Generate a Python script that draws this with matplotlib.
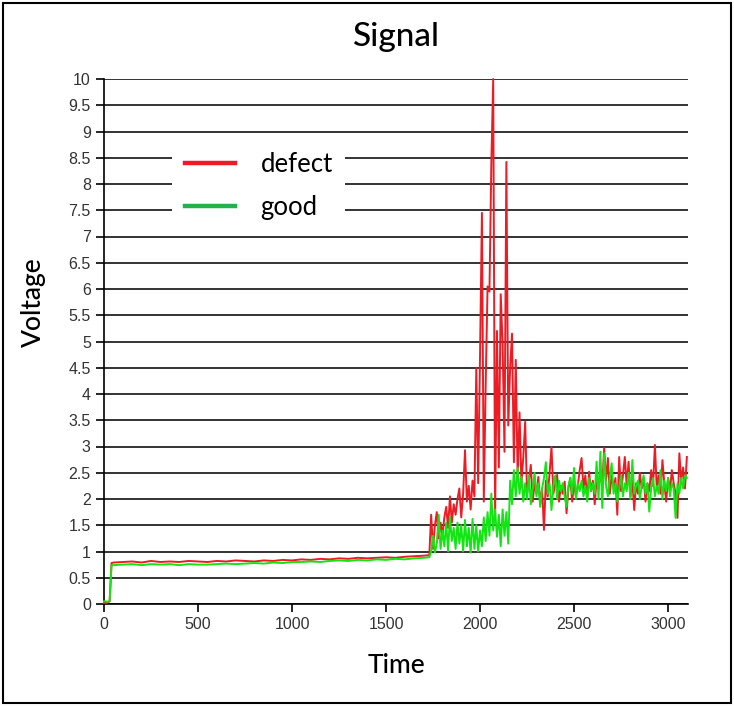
import numpy as np
import matplotlib
matplotlib.use('Agg')
import matplotlib.pyplot as plt
from matplotlib.lines import Line2D
from matplotlib.patches import Rectangle

# time grid: coarse on the flat start, every 10 on the noisy part
t_flat = [0, 10, 20, 30, 40] + list(range(50, 1701, 50)) + [1730]
t_noisy = list(range(1740, 3101, 10))

defect_flat = [0.02, 0.02, 0.03, 0.05, 0.78,
               0.79, 0.80, 0.81, 0.79, 0.82, 0.80, 0.81, 0.80, 0.82, 0.81,
               0.80, 0.82, 0.81, 0.83, 0.82, 0.81, 0.83, 0.82, 0.84, 0.83,
               0.85, 0.84, 0.86, 0.85, 0.87, 0.86, 0.88, 0.87, 0.88, 0.89,
               0.88, 0.90, 0.91, 0.92, 0.93]
good_flat = [0.05, 0.05, 0.04, 0.06, 0.74,
             0.74, 0.75, 0.76, 0.74, 0.76, 0.75, 0.76, 0.74, 0.76, 0.75,
             0.75, 0.76, 0.77, 0.76, 0.77, 0.78, 0.77, 0.79, 0.78, 0.80,
             0.80, 0.81, 0.80, 0.82, 0.83, 0.82, 0.84, 0.83, 0.85, 0.84,
             0.86, 0.85, 0.87, 0.88, 0.89]

defect_noisy = [
    1.70, 1.05, 1.50, 1.75, 1.25, 1.55, 1.30, 1.65, 1.85, 1.45,
    2.05, 1.55, 1.90, 1.70, 2.00, 2.20, 1.65, 2.10, 2.93, 1.95,
    2.25, 1.80, 2.35, 2.05, 4.50, 2.30, 4.75, 7.45, 1.95, 4.20,
    6.05, 5.95, 8.40, 10.0, 1.60, 5.20, 2.60, 5.90, 4.95, 2.90,
    8.42, 3.40, 4.50, 5.15, 2.70, 4.65, 2.40, 3.65, 2.30, 2.80,
    3.47, 2.10, 2.35, 2.65, 1.95, 2.30, 2.10, 2.42, 1.90, 2.20,
    1.41, 2.35, 2.05, 2.50, 2.99, 2.10, 2.30, 2.46, 1.95, 2.25,
    2.10, 2.33, 1.73, 2.20, 2.40, 1.95, 2.30, 2.05, 2.25, 2.55,
    2.78, 2.20, 2.45, 2.00, 2.52, 2.15, 2.35, 1.90, 2.40, 2.20,
    2.50, 2.25, 2.97, 2.35, 2.78, 2.10, 2.45, 2.20, 2.40, 1.70,
    2.80, 2.15, 2.45, 2.80, 2.25, 2.71, 2.05, 2.35, 1.79, 2.30,
    2.10, 2.50, 2.20, 2.40, 1.95, 2.30, 2.15, 2.55, 2.25, 3.03,
    2.20, 2.45, 2.10, 2.74, 2.30, 1.95, 2.40, 2.15, 2.55, 2.30,
    2.10, 1.64, 2.87, 2.35, 2.60, 2.20, 2.80]
good_noisy = [
    1.00, 1.30, 0.98, 1.15, 1.70, 1.05, 1.40, 1.10, 1.55, 1.00,
    1.66, 1.20, 1.45, 1.05, 1.55, 1.15, 1.50, 1.00, 1.60, 1.10,
    1.45, 0.98, 1.62, 1.05, 1.50, 1.00, 1.40, 1.10, 1.65, 1.20,
    1.75, 1.30, 2.10, 1.40, 1.80, 1.28, 1.70, 1.10, 1.80, 1.30,
    1.75, 1.15, 2.35, 1.90, 2.55, 2.05, 2.60, 2.10, 2.42, 1.95,
    2.30, 2.00, 2.45, 1.90, 2.20, 2.50, 2.05, 2.30, 1.85, 2.20,
    2.40, 2.70, 2.10, 2.30, 1.79, 2.25, 2.45, 2.00, 2.35, 2.15,
    2.30, 2.05, 1.85, 2.25, 2.40, 2.10, 2.59, 2.00, 2.30, 2.15,
    2.35, 2.05, 2.25, 1.95, 2.40, 2.15, 2.30, 2.10, 2.71, 2.00,
    2.90, 1.83, 2.87, 2.25, 2.05, 2.40, 2.68, 2.10, 2.30, 1.95,
    2.20, 2.45, 2.05, 2.30, 2.15, 2.50, 2.00, 2.74, 2.10, 2.25,
    2.35, 2.00, 2.25, 2.45, 2.10, 2.30, 1.76, 2.20, 2.40, 2.05,
    2.25, 2.10, 2.55, 2.00, 2.35, 2.15, 2.40, 2.05, 2.30, 2.20,
    1.64, 2.30, 2.10, 2.40, 2.20, 2.45, 2.40]

time = t_flat + t_noisy
defect = defect_flat + defect_noisy
good = good_flat + good_noisy

yticks = np.arange(0, 10.01, 0.5)
xticks = [0, 500, 1000, 1500, 2000, 2500, 3000]

fig = plt.figure(figsize=(7.34, 7.06), dpi=100)
ax = fig.add_axes([104/734, 102/706, 584/734, 525/706])

ax.plot(time, defect, color='#ed1c24', lw=1.4, clip_on=False, zorder=3)
ax.plot(time, good, color='#12e612', lw=1.4, clip_on=False, zorder=4)

ax.set_xlim(0, 3106)
ax.set_ylim(0, 10)
ax.set_yticks(yticks)
ax.set_yticklabels(['{:g}'.format(v) for v in yticks])
ax.set_xticks(xticks)
ax.grid(axis='y', color='#111111', lw=1.2)
ax.set_axisbelow(True)
for s in ['top', 'right']:
    ax.spines[s].set_visible(False)
ax.spines['left'].set_linewidth(1.2)
ax.spines['bottom'].set_linewidth(1.2)
ax.tick_params(direction='out', length=6, width=1.2, colors='black',
               labelcolor='#333333', labelsize=11.5)
for lab in ax.get_xticklabels() + ax.get_yticklabels():
    lab.set_family('Liberation Sans')

ax.set_title('Signal', family='Lato', fontsize=24, fontweight='medium', pad=24)
ax.set_xlabel('Time', family='Lato', fontsize=19, fontweight='medium')
ax.set_ylabel('Voltage', family='Lato', fontsize=19, fontweight='medium')
ax.xaxis.set_label_coords(0.5, -0.093)
ax.yaxis.set_label_coords(-0.10, 0.575)

handles = [Line2D([], [], color='#ed1c24', lw=3.2),
           Line2D([], [], color='#22b14c', lw=3.2)]
leg = ax.legend(handles, ['defect', 'good'], loc='upper left',
                bbox_to_anchor=(0.116, 0.886), prop={'family': 'Lato', 'size': 18.5},
                frameon=True, fancybox=False, framealpha=1, edgecolor='white',
                handlelength=1.95, handletextpad=1.0, labelspacing=0.7,
                borderpad=0.5, borderaxespad=0)
leg.get_frame().set_linewidth(0)

fig.patches.append(Rectangle((3/734, 3/706), 728/734, 700/706, transform=fig.transFigure,
                             fill=False, edgecolor='black', lw=1.5))

fig.savefig('out.png', dpi=100)
